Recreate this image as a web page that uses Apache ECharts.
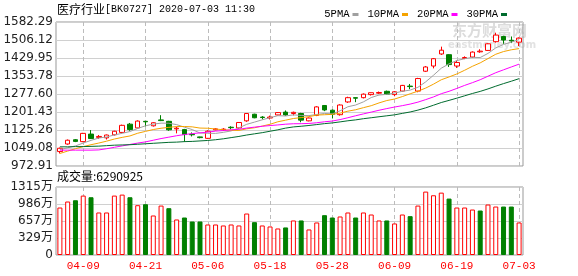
<!DOCTYPE html>
<html><head><meta charset="utf-8">
<script src="https://cdn.jsdelivr.net/npm/echarts@6/dist/echarts.min.js"></script>
<style>html,body{margin:0;padding:0;background:#fff}#c{width:578px;height:276px}</style>
</head><body><div id="c"></div>
<script>
const dates = ['04-03','04-07','04-08','04-09','04-10','04-13','04-14','04-15','04-16','04-17','04-20','04-21','04-22','04-23','04-24','04-27','04-28','04-29','04-30','05-06','05-07','05-08','05-11','05-12','05-13','05-14','05-15','05-18','05-19','05-20','05-21','05-22','05-25','05-26','05-27','05-28','05-29','06-01','06-02','06-03','06-04','06-05','06-08','06-09','06-10','06-11','06-12','06-15','06-16','06-17','06-18','06-19','06-22','06-23','06-24','06-29','06-30','07-01','07-02','07-03'];
const open  = [1034,1066,1084,1076,1108,1094,1092,1105,1115,1150,1134,1162,1143,1168,1162,1130,1127,1107,1096,1090,1126,1126,1137,1134,1164,1192,1180,1176,1189,1201,1195,1195,1164,1187,1229,1209,1190,1244,1262,1262,1275,1281,1289,1275,1290,1311,1290,1374,1396,1447,1444,1396,1428,1434,1456,1462,1499,1521,1505,1497];
const close = [1048,1082,1077,1111,1089,1098,1104,1120,1145,1127,1163,1160,1156,1165,1126,1133,1106,1105,1093,1120,1130,1129,1135,1157,1195,1177,1178,1180,1199,1189,1200,1167,1176,1223,1210,1192,1231,1262,1260,1277,1283,1284,1277,1287,1314,1309,1343,1392,1427,1463,1402,1411,1432,1455,1459,1490,1527,1506,1502,1514];
const low   = [1026,1063,1074,1074,1087,1088,1085,1102,1113,1122,1132,1140,1140,1163,1122,1111,1075,1098,1090,1088,1124,1122,1128,1131,1160,1175,1170,1170,1187,1185,1187,1158,1162,1184,1205,1174,1186,1240,1243,1259,1271,1278,1274,1268,1288,1298,1285,1371,1386,1443,1392,1388,1425,1431,1452,1460,1495,1490,1493,1480];
const high  = [1051,1085,1087,1113,1125,1104,1106,1122,1148,1155,1166,1163,1158,1188,1164,1139,1130,1115,1097,1124,1133,1133,1141,1159,1197,1194,1184,1186,1201,1208,1203,1198,1178,1226,1231,1212,1234,1266,1263,1280,1284,1288,1292,1290,1316,1320,1346,1396,1430,1478,1446,1419,1437,1458,1467,1492,1537,1524,1521,1517];
const ma5  = [1042,1050,1058,1070,1081.4,1091.4,1095.8,1104.4,1111.2,1118.8,1131.8,1143,1150.2,1154.2,1154,1148,1137.2,1127,1112.6,1111.4,1110.8,1115.4,1121.4,1134.2,1149.2,1158.6,1168.4,1177.4,1185.8,1184.6,1189.2,1187,1186.2,1191,1195.2,1193.6,1206.4,1223.6,1231,1244.4,1262.6,1273.2,1276.2,1281.6,1289,1294.2,1306,1329,1357,1386.8,1405.4,1419,1427,1432.6,1431.8,1449.4,1472.6,1487.4,1496.8,1507.8];
const ma10 = [1026,1036,1046,1055,1063,1070,1078,1087,1094,1100.1,1111.6,1119.4,1127.3,1132.7,1136.4,1139.9,1140.1,1138.6,1133.4,1132.7,1129.4,1126.3,1124.2,1123.4,1130.3,1134.7,1141.9,1149.4,1160,1166.9,1173.9,1177.7,1181.8,1188.4,1189.9,1191.4,1196.7,1204.9,1211,1219.8,1228.1,1239.8,1249.9,1256.3,1266.7,1278.4,1289.6,1302.6,1319.3,1337.9,1349.8,1362.5,1378,1394.8,1409.3,1427.4,1445.8,1457.2,1464.7,1469.8];
const ma20 = [1040,1040,1040,1040,1040,1041,1046,1052,1058,1064,1070,1075,1082,1089,1095,1101,1106,1110,1113,1116.4,1120.5,1122.9,1125.8,1128.1,1133.4,1137.3,1141,1144,1146.7,1149.8,1151.7,1152,1153,1155.9,1160.1,1163.1,1169.3,1177.2,1185.5,1193.4,1201,1208.8,1215.9,1222.4,1228.3,1234.9,1243.2,1253.8,1265.2,1278.9,1289,1301.2,1314,1325.6,1338,1352.9,1367.7,1379.9,1392,1403.9];
const ma30 = [1054,1054,1055,1055,1056,1057,1059,1061,1062,1063,1065,1067,1069,1071,1073,1074,1076,1077,1079,1081,1084,1088,1093,1098,1104,1109,1114,1120,1126,1133.2,1138.3,1141.1,1144.4,1148.2,1152.2,1155.3,1159.6,1164.3,1168.1,1173.1,1177.1,1181.3,1185.3,1189.4,1195.6,1201.5,1209.4,1219,1230.1,1241.5,1250.6,1260,1269.9,1279.8,1288.6,1299.1,1310.7,1321.6,1331.7,1342.5];
const volume = [918,1034,1059,1149,1117,822,822,1149,1168,1117,963,982,764,956,905,687,725,648,648,590,590,571,590,571,802,635,571,552,513,533,668,668,494,629,770,725,745,822,725,822,783,668,668,610,783,751,956,1226,1155,1206,1091,918,918,879,860,976,937,937,937,629];
const volUp = [1,1,0,1,0,1,1,1,1,0,1,0,1,1,0,1,0,0,0,1,1,1,1,1,1,0,1,1,1,0,1,0,1,1,0,0,1,1,0,1,1,1,0,1,1,0,1,1,1,1,0,1,1,1,0,1,1,0,0,1];
const priceTicks = ['972.91','1049.08','1125.26','1201.43','1277.60','1353.78','1429.95','1506.12','1582.29'];
const volTicks = ['0','329万','657万','986万','1315万'];
const maNames = ['5PMA','10PMA','20PMA','30PMA'];
const titleName = '医疗行业';
const titleRest = '[BK0727] 2020-07-03 11:30';
const volLabel = '成交量:6290925';

const priceMin = parseFloat(priceTicks[0]);
const priceMax = parseFloat(priceTicks[priceTicks.length-1]);
const priceStep = (priceMax - priceMin)/(priceTicks.length-1);
const volMax = 1315;
const volStep = volMax/(volTicks.length-1);

const RED = '#ff0000', GREEN = '#008000';
const maColors = ['#a0a0a0','#f5a300','#ff00ff','#006b2e'];
const showIdx = (i) => i % 8 === 3;
const vSplit = {show:true, interval:(i)=>showIdx(i), alignWithLabel:true, lineStyle:{color:'#bcbcbc', width:1, type:[4,3]}};

const chart = echarts.init(document.getElementById('c'), null, {renderer:'canvas'});
const kData = dates.map((d,i)=>[open[i], close[i], low[i], high[i]]);
const volData = volume.map((v,i)=>({value:v, itemStyle: volUp[i] ? {color:'#fff', borderColor:RED, borderWidth:1} : {color:GREEN, borderColor:GREEN, borderWidth:1}}));
const maArr = [ma5, ma10, ma20, ma30];

chart.setOption({
  animation:false,
  backgroundColor:'#fff',
  legend:{
    data: maNames, right:66, top:4, icon:'rect', itemWidth:6, itemHeight:3, itemGap:9, align:'right',
    textStyle:{fontFamily:'Liberation Mono', fontSize:10.5, color:'#000', padding:[0,-2,0,0]}
  },
  grid:[
    {left:56, right:55, top:22, height:144, show:true, borderColor:'#999', borderWidth:1},
    {left:56, right:55, top:187, height:68, show:true, borderColor:'#999', borderWidth:1}
  ],
  xAxis:[
    {type:'category', data:dates, gridIndex:0,
     axisLine:{show:false}, axisTick:{show:false}, axisLabel:{show:false}, splitLine:vSplit},
    {type:'category', data:dates, gridIndex:1,
     axisLine:{show:false}, axisTick:{show:false},
     axisLabel:{interval:(i)=>showIdx(i), color:RED, fontFamily:'Liberation Mono', fontSize:11, margin:6},
     splitLine:vSplit}
  ],
  yAxis:[
    {type:'value', gridIndex:0, min:priceMin, max:priceMax, interval:priceStep,
     axisLine:{show:false}, axisTick:{show:false},
     axisLabel:{margin:3, color:'#222', fontFamily:'DejaVu Sans', fontSize:12,
       formatter:(v)=>{const i=Math.round((v-priceMin)/priceStep); return priceTicks[i]||'';}},
     splitLine:{lineStyle:{color:'#d0d0d0'}}},
    {type:'value', gridIndex:1, min:0, max:volMax, interval:volStep,
     axisLine:{show:false}, axisTick:{show:false},
     axisLabel:{margin:3, color:'#222', fontFamily:'DejaVu Sans, Noto Sans CJK SC', fontSize:12,
       formatter:(v)=>{const i=Math.round(v/volStep); return volTicks[i]||'';}},
     splitLine:{lineStyle:{color:'#d0d0d0'}}}
  ],
  graphic:[
    {type:'text', left:57, top:3, style:{text:'{a|'+titleName+'}{b|'+titleRest+'}', rich:{
      a:{fontFamily:'Noto Sans CJK SC', fontSize:12, fill:'#000'},
      b:{fontFamily:'Liberation Mono', fontSize:10, fill:'#000'}}}},
    {type:'text', left:57, top:170, style:{text:volLabel, fontFamily:'Noto Sans CJK SC', fontSize:12, fill:'#000'}},
    {type:'text', left:452, top:23, z:-1, style:{text:'东方财富网', fontFamily:'Noto Sans CJK SC', fontWeight:'bold', fontSize:15, fill:'#dcdcdc'}},
    {type:'text', left:448, top:40, z:-1, style:{text:'eastmoney.com', fontFamily:'DejaVu Sans', fontWeight:'bold', fontSize:10, fill:'#e2e2e2'}}
  ],
  series:[
    {name:'K', type:'candlestick', xAxisIndex:0, yAxisIndex:0, data:kData, barWidth:5, z:2,
     itemStyle:{color:'#fff', color0:GREEN, borderColor:RED, borderColor0:GREEN, borderWidth:1}},
    ...maNames.map((n,k)=>({name:n, type:'line', xAxisIndex:0, yAxisIndex:0, data:maArr[k], symbol:'none',
      lineStyle:{width:1, color:maColors[k]}, itemStyle:{color:maColors[k]}, z:3})),
    {name:'VOL', type:'bar', xAxisIndex:1, yAxisIndex:1, data:volData, barWidth:5, z:2}
  ]
});
</script></body></html>
